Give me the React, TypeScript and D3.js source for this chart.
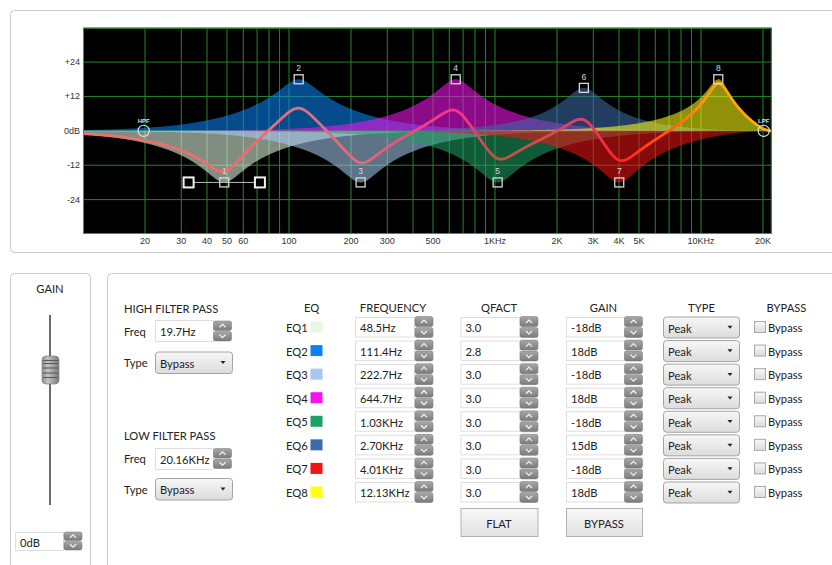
import React from "react";
import * as d3 from "d3";

// ---------- data ----------
const eqNames = ["EQ1", "EQ2", "EQ3", "EQ4", "EQ5", "EQ6", "EQ7", "EQ8"];
const eqFreqs = [48.5, 111.4, 222.7, 644.7, 1030, 2700, 4010, 12130];
const eqFreqLabels = ["48.5Hz", "111.4Hz", "222.7Hz", "644.7Hz", "1.03KHz", "2.70KHz", "4.01KHz", "12.13KHz"];
const eqQs = [3.0, 2.8, 3.0, 3.0, 3.0, 3.0, 3.0, 3.0];
const eqQLabels = ["3.0", "2.8", "3.0", "3.0", "3.0", "3.0", "3.0", "3.0"];
const eqGains = [-18, 18, -18, 18, -18, 15, -18, 18];
const eqGainLabels = ["-18dB", "18dB", "-18dB", "18dB", "-18dB", "15dB", "-18dB", "18dB"];
const eqTypes = ["Peak", "Peak", "Peak", "Peak", "Peak", "Peak", "Peak", "Peak"];
const eqColors = ["#e4f8e4", "#0a84f4", "#a6c8f0", "#f414f0", "#1ea064", "#3b6ba8", "#f01414", "#ffff10"];

const hpfFreq = 19.7;
const hpfLabel = "19.7Hz";
const hpfType = "Bypass";
const lpfFreq = 20160;
const lpfLabel = "20.16KHz";
const lpfType = "Bypass";
const masterGainLabel = "0dB";

const selectedBand = 0;
const selectedHalfWidthOct = 0.575;

const sampleRate = 44100;
const freqDomain = [10, 22050];
const dbDomain = [-36, 36];

const xTickValues = [20, 30, 40, 50, 60, 100, 200, 300, 500, 1000, 2000, 3000, 4000, 5000, 10000, 20000];
const xTickLabels = ["20", "30", "40", "50", "60", "100", "200", "300", "500", "1KHz", "2K", "3K", "4K", "5K", "10KHz", "20K"];
const xGridValues = [
  20, 30, 40, 50, 60, 70, 80, 90, 100,
  200, 300, 400, 500, 600, 700, 800, 900, 1000,
  2000, 3000, 4000, 5000, 6000, 7000, 8000, 9000, 10000,
  20000,
];
const yTickValues = [24, 12, 0, -12, -24];
const yTickLabels = ["+24", "+12", "0dB", "-12", "-24"];

// ---------- layout ----------
const W = 832;
const H = 565;
const PX0 = 83;
const PY0 = 27.7;
const PY1 = 234;
const PX_PER_DECADE = 206;

const UI_FONT = "Lato, 'Noto Sans', 'DejaVu Sans', sans-serif";
const UI_SIZE = 11.2;
const AX_FONT = "'Liberation Sans', Arial, sans-serif";

function bandDb(f: number, f0: number, gain: number, q: number): number {
  const A = Math.pow(10, gain / 40);
  const qe = q / Math.pow(10, Math.abs(gain) / 40);
  const w0 = (2 * Math.PI * f0) / sampleRate;
  const alpha = Math.sin(w0) / (2 * qe);
  const c = Math.cos(w0);
  const b0 = 1 + alpha * A, b1 = -2 * c, b2 = 1 - alpha * A;
  const a0 = 1 + alpha / A, a1 = -2 * c, a2 = 1 - alpha / A;
  const w = (2 * Math.PI * f) / sampleRate;
  const cw = Math.cos(w), sw = Math.sin(w), c2 = Math.cos(2 * w), s2 = Math.sin(2 * w);
  const nr = b0 + b1 * cw + b2 * c2, ni = -(b1 * sw + b2 * s2);
  const dr = a0 + a1 * cw + a2 * c2, di = -(a1 * sw + a2 * s2);
  return 10 * Math.log10((nr * nr + ni * ni) / (dr * dr + di * di));
}

function Label({ x, y, t, anchor }: { x: number; y: number; t: string; anchor?: string }) {
  return (
    <text x={x} y={y} textAnchor={anchor || "start"} dominantBaseline="central" fontSize={UI_SIZE} fill="#222" fontFamily={UI_FONT}>
      {t}
    </text>
  );
}

function Spinner({ x, y, h }: { x: number; y: number; h: number }) {
  const w = 18;
  const hh = h / 2 - 0.5;
  const cx = x + w / 2;
  const c1 = y + hh / 2;
  const c2 = y + h - hh / 2;
  return (
    <g>
      <rect x={x} y={y} width={w} height={hh} rx={2} fill="url(#spinGrad)" stroke="#777" strokeWidth={0.5} />
      <rect x={x} y={y + h - hh} width={w} height={hh} rx={2} fill="url(#spinGrad)" stroke="#777" strokeWidth={0.5} />
      <polyline points={`${cx - 3},${c1 + 1.5} ${cx},${c1 - 1.5} ${cx + 3},${c1 + 1.5}`} fill="none" stroke="#f4f4f4" strokeWidth={1.2} />
      <polyline points={`${cx - 3},${c2 - 1.5} ${cx},${c2 + 1.5} ${cx + 3},${c2 - 1.5}`} fill="none" stroke="#f4f4f4" strokeWidth={1.2} />
    </g>
  );
}

function TextBox({ x, y, w, h, text }: { x: number; y: number; w: number; h: number; text: string }) {
  return (
    <g>
      <rect x={x + 0.5} y={y + 0.5} width={w} height={h} fill="#ffffff" stroke="#dedede" />
      <Label x={x + 5} y={y + h / 2 + 1} t={text} />
    </g>
  );
}

function Dropdown({ x, y, w, h, text }: { x: number; y: number; w: number; h: number; text: string }) {
  const ax = x + w - 9;
  const cy = y + h / 2;
  return (
    <g>
      <rect x={x + 0.5} y={y + 0.5} width={w} height={h} rx={3} fill="url(#ddGrad)" stroke="#a4a4a4" />
      <Label x={x + 5} y={cy + 1} t={text} />
      <path d={`M${ax - 2.5},${cy - 1.2} L${ax + 2.5},${cy - 1.2} L${ax},${cy + 1.8} Z`} fill="#222" />
    </g>
  );
}

export default function App() {
  const xRangeEnd = PX0 + PX_PER_DECADE * Math.log10(freqDomain[1] / freqDomain[0]);
  const x = d3.scaleLog().domain(freqDomain).range([PX0, xRangeEnd]);
  const y = d3.scaleLinear().domain(dbDomain).range([PY1, PY0]);

  const N = 900;
  const freqs = d3.range(N + 1).map((i) => freqDomain[0] * Math.pow(freqDomain[1] / freqDomain[0], i / N));

  const bands = eqFreqs.map((f0, b) =>
    freqs.map((f) => ({ f, db: bandDb(f, f0, eqGains[b], eqQs[b]) }))
  );
  const sum = freqs.map((f, i) => ({ f, db: d3.sum(bands, (bd) => bd[i].db) }));

  const area = d3
    .area<{ f: number; db: number }>()
    .x((d) => x(d.f))
    .y0(y(0))
    .y1((d) => y(d.db));
  const line = d3
    .line<{ f: number; db: number }>()
    .x((d) => x(d.f))
    .y((d) => y(d.db));

  const lineStops: [number, string][] = [
    [10, "#ee726a"], [60, "#ec6c6c"], [120, "#dc7088"], [230, "#e26a7a"], [450, "#f04282"],
    [650, "#ff2e92"], [1000, "#b45a3c"], [1700, "#d05050"], [2700, "#e03e70"], [4000, "#ff2222"],
    [7000, "#ff5c10"], [11000, "#ffa010"], [22050, "#ffaa18"],
  ];

  const rowC = (i: number) => 327 + i * 23.57;
  const pw = xRangeEnd - PX0;

  const selF = eqFreqs[selectedBand];
  const selY = y(eqGains[selectedBand]);
  const hL = x(selF / Math.pow(2, selectedHalfWidthOct));
  const hR = x(selF * Math.pow(2, selectedHalfWidthOct));

  return (
    <div style={{ position: "fixed", left: 0, top: 0, width: W, height: H, background: "#fff" }}>
      <svg width={W} height={H} viewBox={`0 0 ${W} ${H}`} style={{ display: "block" }}>
        <defs>
          <linearGradient id="spinGrad" x1="0" y1="0" x2="0" y2="1">
            <stop offset="0" stopColor="#a8a8a8" />
            <stop offset="1" stopColor="#7a7a7a" />
          </linearGradient>
          <linearGradient id="ddGrad" x1="0" y1="0" x2="0" y2="1">
            <stop offset="0" stopColor="#f7f7f7" />
            <stop offset="1" stopColor="#dcdcdc" />
          </linearGradient>
          <linearGradient id="btnGrad" x1="0" y1="0" x2="0" y2="1">
            <stop offset="0" stopColor="#f8f8f8" />
            <stop offset="1" stopColor="#e2e2e2" />
          </linearGradient>
          <linearGradient id="thumbGrad" x1="0" y1="0" x2="1" y2="0">
            <stop offset="0" stopColor="#8e8e8e" />
            <stop offset="0.35" stopColor="#c4c4c4" />
            <stop offset="0.7" stopColor="#9c9c9c" />
            <stop offset="1" stopColor="#7e7e7e" />
          </linearGradient>
          <linearGradient id="sumGrad" gradientUnits="userSpaceOnUse" x1={PX0} y1={0} x2={xRangeEnd} y2={0}>
            {lineStops.map(([f, c], i) => (
              <stop key={i} offset={(x(f) - PX0) / pw} stopColor={c} />
            ))}
          </linearGradient>
          <clipPath id="plotClip">
            <rect x={PX0} y={PY0} width={pw} height={PY1 - PY0} />
          </clipPath>
        </defs>

        {/* panels */}
        <rect x={10.5} y={10.5} width={840} height={242} rx={4} fill="#fff" stroke="#cacaca" />
        <rect x={10.5} y={273.5} width={80} height={320} rx={4} fill="#fff" stroke="#cacaca" />
        <rect x={107.5} y={273.5} width={760} height={320} rx={4} fill="#fff" stroke="#cacaca" />

        {/* plot background */}
        <rect x={PX0} y={PY0} width={pw} height={PY1 - PY0} fill="#000" />
        <g stroke="#26842a" strokeWidth={1}>
          {xGridValues.map((f) => (
            <line key={f} x1={x(f)} x2={x(f)} y1={PY0} y2={PY1} />
          ))}
          {yTickValues.map((v) => (
            <line key={v} x1={PX0} x2={xRangeEnd} y1={y(v)} y2={y(v)} />
          ))}
        </g>

        <g clipPath="url(#plotClip)">
          {bands.map((bd, b) => (
            <path key={b} d={area(bd) || ""} fill={eqColors[b]} fillOpacity={0.57} />
          ))}
          <path d={line(sum) || ""} fill="none" stroke="url(#sumGrad)" strokeWidth={2.8} strokeLinejoin="round" />
        </g>
        <rect x={PX0 + 0.5} y={PY0 + 0.5} width={pw - 1} height={PY1 - PY0 - 1} fill="none" stroke="#3a9a3a" />

        {/* selected band handles */}
        <line x1={hL} x2={hR} y1={selY} y2={selY} stroke="#bdbdbd" strokeWidth={1} />
        {[hL, hR].map((hx, i) => (
          <rect key={i} x={hx - 5} y={selY - 5} width={10} height={10} fill="#000" stroke="#f2f2f2" strokeWidth={2} />
        ))}

        {/* band markers */}
        {eqFreqs.map((f, b) => {
          const mx = x(f);
          const my = y(eqGains[b]);
          return (
            <g key={b}>
              <rect x={mx - 4.5} y={my - 4.5} width={9} height={9} fill="none" stroke="#d8d8d8" strokeWidth={1.3} />
              <text x={mx} y={my - 11} textAnchor="middle" dominantBaseline="central" fontSize={8.5} fill="#d8d8d8" fontFamily={AX_FONT}>
                {b + 1}
              </text>
            </g>
          );
        })}

        {/* HPF / LPF markers */}
        {[{ f: hpfFreq, t: "HPF" }, { f: lpfFreq, t: "LPF" }].map((m) => (
          <g key={m.t}>
            <circle cx={x(m.f)} cy={y(0)} r={5.6} fill="none" stroke="#e0e0e0" strokeWidth={1.2} />
            <text x={x(m.f)} y={y(0) - 10} textAnchor="middle" dominantBaseline="central" fontSize={6} fontWeight="bold" fill="#e0e0e0" fontFamily={AX_FONT}>
              {m.t}
            </text>
          </g>
        ))}

        {/* axis labels */}
        {yTickValues.map((v, i) => (
          <text key={v} x={80} y={y(v)} textAnchor="end" dominantBaseline="central" fontSize={9} fill="#333" fontFamily={AX_FONT}>
            {yTickLabels[i]}
          </text>
        ))}
        {xTickValues.map((f, i) => (
          <text key={f} x={x(f)} y={240.5} textAnchor="middle" dominantBaseline="central" fontSize={9} fill="#333" fontFamily={AX_FONT}>
            {xTickLabels[i]}
          </text>
        ))}

        {/* GAIN panel */}
        <Label x={50} y={288} t="GAIN" anchor="middle" />
        <line x1={50} x2={50} y1={315} y2={505} stroke="#6a6a6a" strokeWidth={2} />
        <rect x={42} y={356} width={17} height={28} rx={4} fill="url(#thumbGrad)" stroke="#777" strokeWidth={0.6} />
        {[360.5, 363.5, 368, 373, 377.5].map((sy) => (
          <line key={sy} x1={43} x2={58} y1={sy} y2={sy} stroke="#5a5a5a" strokeWidth={1.1} />
        ))}
        <TextBox x={15} y={532} w={48} h={18} text={masterGainLabel} />
        <Spinner x={64} y={532} h={18} />

        {/* filter passes */}
        <Label x={124} y={308} t="HIGH FILTER PASS" />
        <Label x={124} y={331} t="Freq" />
        <TextBox x={155} y={320} w={58} h={21} text={hpfLabel} />
        <Spinner x={213.5} y={321} h={20} />
        <Label x={124} y={362} t="Type" />
        <Dropdown x={155} y={351.5} w={77} h={21.5} text={hpfType} />

        <Label x={124} y={435} t="LOW FILTER PASS" />
        <Label x={124} y={458} t="Freq" />
        <TextBox x={155} y={448} w={58} h={21} text={lpfLabel} />
        <Spinner x={213.5} y={448.5} h={20} />
        <Label x={124} y={489} t="Type" />
        <Dropdown x={155} y={478} w={77} h={21.5} text={lpfType} />

        {/* headers */}
        {[
          { t: "EQ", cx: 311.5 },
          { t: "FREQUENCY", cx: 393 },
          { t: "QFACT", cx: 499 },
          { t: "GAIN", cx: 603.5 },
          { t: "TYPE", cx: 701.5 },
          { t: "BYPASS", cx: 786.5 },
        ].map((h) => (
          <Label key={h.t} x={h.cx} y={307.5} t={h.t} anchor="middle" />
        ))}

        {/* rows */}
        {eqNames.map((name, i) => {
          const cy = rowC(i);
          return (
            <g key={name}>
              <Label x={286} y={cy + 0.5} t={name} />
              <rect x={310.5} y={cy - 5.5} width={12} height={11} fill={eqColors[i]} />
              <TextBox x={355} y={cy - 10} w={59} h={19.5} text={eqFreqLabels[i]} />
              <Spinner x={415} y={cy - 10.5} h={21} />
              <TextBox x={460.5} y={cy - 10} w={59} h={19.5} text={eqQLabels[i]} />
              <Spinner x={520} y={cy - 10.5} h={21} />
              <TextBox x={566} y={cy - 10} w={58} h={19.5} text={eqGainLabels[i]} />
              <Spinner x={624.5} y={cy - 10.5} h={21} />
              <Dropdown x={663} y={cy - 10.5} w={76} h={21} text={eqTypes[i]} />
              <rect x={754.5} y={cy - 5.5} width={11} height={11} fill="url(#ddGrad)" stroke="#a8a8a8" />
              <Label x={768} y={cy + 0.5} t="Bypass" />
            </g>
          );
        })}

        {/* buttons */}
        {[
          { t: "FLAT", x0: 460.5, w: 77 },
          { t: "BYPASS", x0: 566, w: 76 },
        ].map((b) => (
          <g key={b.t}>
            <rect x={b.x0 + 0.5} y={508.5} width={b.w} height={28} fill="url(#btnGrad)" stroke="#b2b2b2" />
            <Label x={b.x0 + b.w / 2} y={523} t={b.t} anchor="middle" />
          </g>
        ))}
      </svg>
    </div>
  );
}
